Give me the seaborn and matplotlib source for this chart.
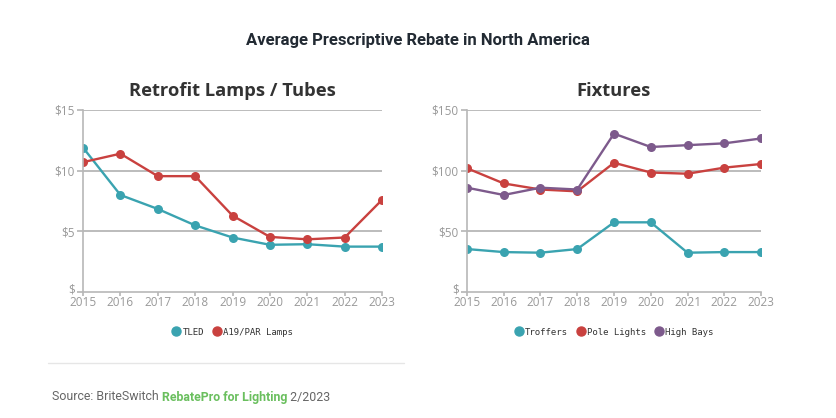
import matplotlib
matplotlib.use("Agg")
import matplotlib.pyplot as plt
import matplotlib.transforms as mtransforms
import seaborn as sns
import pandas as pd
from matplotlib.lines import Line2D

years = [2015, 2016, 2017, 2018, 2019, 2020, 2021, 2022, 2023]
tled = [11.9, 8.0, 6.85, 5.5, 4.5, 3.9, 3.95, 3.75, 3.75]
a19 = [10.7, 11.4, 9.55, 9.55, 6.3, 4.55, 4.35, 4.5, 7.6]
troffers = [35.5, 33, 32.5, 35.5, 57.5, 57.5, 32.5, 33, 33]
pole = [102, 89.5, 84.5, 83, 106.5, 98.5, 97.5, 102.5, 105.5]
highbays = [86, 80, 86, 84.5, 130.5, 119.5, 121, 122.5, 126.5]

left_ticks = [0, 5, 10, 15]
left_labels = ["$", "$5", "$10", "$15"]
right_ticks = [0, 50, 100, 150]
right_labels = ["$", "$50", "$100", "$150"]

TEAL = "#3aa3b0"
RED = "#c9413f"
PURPLE = "#7d5a8c"

sns.set_theme(style="white")
plt.rcParams["font.family"] = ["Open Sans", "DejaVu Sans"]

df_left = pd.DataFrame({"Year": years * 2,
                        "Value": tled + a19,
                        "Series": ["TLED"] * 9 + ["A19/PAR Lamps"] * 9})
df_right = pd.DataFrame({"Year": years * 3,
                         "Value": troffers + pole + highbays,
                         "Series": ["Troffers"] * 9 + ["Pole Lights"] * 9 + ["High Bays"] * 9})

fig = plt.figure(figsize=(8.36, 4.18), dpi=100)
ax1 = fig.add_axes([0.0993, 0.301, 0.3577, 0.436])
ax2 = fig.add_axes([0.5586, 0.301, 0.3517, 0.436])


def style(ax, df, palette, ticks, labels, title):
    sns.lineplot(data=df, x="Year", y="Value", hue="Series", palette=palette,
                 marker="o", markersize=6.5, markeredgewidth=0, linewidth=1.7,
                 ax=ax, legend=False)
    ax.set_xlim(2015, 2023)
    ax.set_ylim(ticks[0], ticks[-1])
    ax.set_yticks(ticks)
    ax.set_yticklabels(labels)
    ax.set_xticks(years)
    ax.set_xticklabels([str(y) for y in years])
    ax.set_xlabel("")
    ax.set_ylabel("")
    for t in ticks[1:]:
        ax.axhline(t, color="#b0b0b0", linewidth=1.2, zorder=0)
    for s in ["top", "right"]:
        ax.spines[s].set_visible(False)
    for s in ["left", "bottom"]:
        ax.spines[s].set_color("#b8b8b8")
        ax.spines[s].set_linewidth(1.2)
    ax.tick_params(axis="y", left=True, length=4, color="#b8b8b8", labelsize=8.5,
                   labelcolor="#999999", pad=2)
    ax.tick_params(axis="x", bottom=True, length=3, color="#b8b8b8", labelsize=8.5,
                   labelcolor="#999999", pad=0)
    lab0 = ax.get_yticklabels()[0]
    lab0.set_transform(lab0.get_transform() +
                       mtransforms.ScaledTranslation(0, 3 / 72, fig.dpi_scale_trans))
    ax.set_title(title, fontsize=13.2, fontweight="bold", color="#333333", pad=10)
    handles = [Line2D([], [], linestyle="none", marker="o", markersize=6.5,
                      color=palette[k]) for k in palette]
    ax.legend(handles, list(palette.keys()), loc="upper center",
              bbox_to_anchor=(0.5, -0.15), ncol=len(palette), frameon=False,
              prop={"family": "DejaVu Sans Mono", "size": 6.5},
              handletextpad=0.2, columnspacing=0.9, handlelength=1.0,
              labelcolor="#333333")


style(ax1, df_left, {"TLED": TEAL, "A19/PAR Lamps": RED}, left_ticks, left_labels,
      "Retrofit Lamps / Tubes")
style(ax2, df_right, {"Troffers": TEAL, "Pole Lights": RED, "High Bays": PURPLE},
      right_ticks, right_labels, "Fixtures")

fig.text(0.5, 1 - 40 / 418, "Average Prescriptive Rebate in North America",
         ha="center", va="center", fontsize=12, fontweight="bold",
         color="#222a33", family="Roboto")

fig.add_artist(Line2D([48 / 836, 404 / 836], [1 - 363 / 418] * 2,
                      color="#e6e6e6", linewidth=1, transform=fig.transFigure))

renderer = fig.canvas.get_renderer()
x = 52 / 836
y = 1 - 397 / 418
parts = [("Source: BriteSwitch ", "#666666", "normal"),
         ("RebatePro for Lighting", "#6abf5e", "bold"),
         (" 2/2023", "#666666", "normal")]
for txt, col, wt in parts:
    t = fig.text(x, y, txt, ha="left", va="center", fontsize=8.9, color=col,
                 fontweight=wt, family="Roboto")
    bb = t.get_window_extent(renderer=renderer)
    x += bb.width / fig.bbox.width

fig.savefig("out.png", dpi=100)
